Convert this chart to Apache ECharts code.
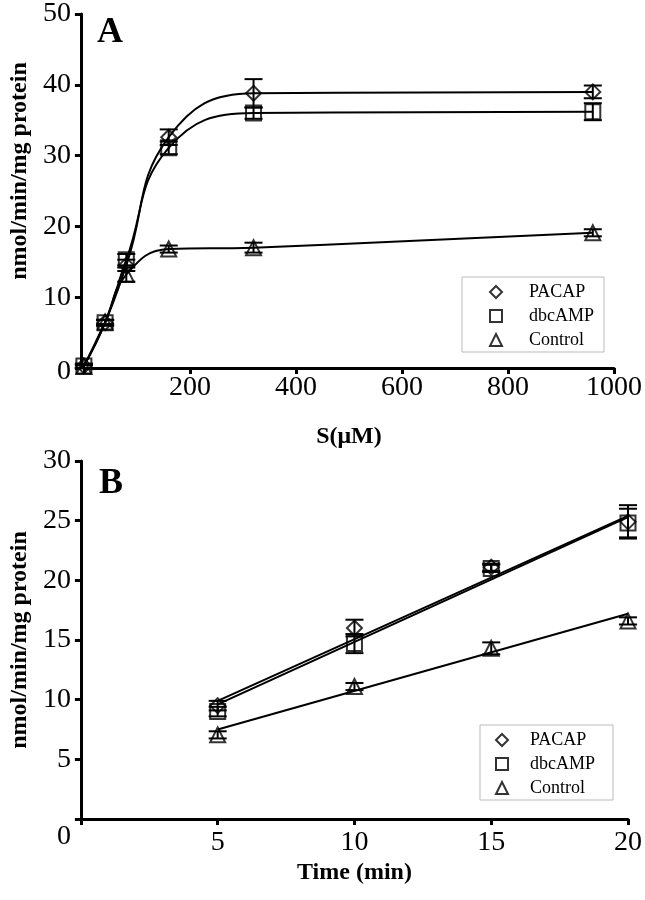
<!DOCTYPE html>
<html>
<head>
<meta charset="utf-8">
<script src="https://cdn.jsdelivr.net/npm/echarts@6/dist/echarts.min.js"></script>
<style>
html,body{margin:0;padding:0;background:#fff;}
#c{width:645px;height:900px;}
</style>
</head>
<body>
<div id="c"></div>
<script>
// ---- Panel A data (substrate concentration, µM) ----
const concA = [0, 40, 80, 160, 320, 960];
const pacapA = [0.3, 6.4, 14.5, 32.6, 38.8, 39.0];
const pacapAErr = [0.3, 0.4, 0.8, 1.1, 2.0, 0.9];
const dbcampA = [0.3, 6.4, 15.3, 31.1, 36.0, 36.2];
const dbcampAErr = [0.3, 0.4, 0.8, 0.9, 0.8, 1.2];
const controlA = [0.2, 6.5, 13.2, 16.8, 17.0, 19.1];
const controlAErr = [0.2, 0.3, 1.0, 0.5, 0.7, 0.5];
const xTicksA = [0, 200, 400, 600, 800, 1000];
const yTicksA = [0, 10, 20, 30, 40, 50];

// ---- Panel B data (time, min) ----
const timeB = [5, 10, 15, 20];
const pacapB = [9.5, 16.0, 21.1, 24.9];
const pacapBErr = [0.4, 0.7, 0.3, 1.4];
const dbcampB = [9.0, 14.7, 21.0, 24.8];
const dbcampBErr = [0.4, 0.8, 0.3, 1.2];
const controlB = [7.05, 11.1, 14.3, 16.6];
const controlBErr = [0.3, 0.3, 0.5, 0.3];
// fitted lines read at the ends of each line
const fitTimeB = [5, 20];
const pacapFitB = [9.9, 25.4];
const dbcampFitB = [9.6, 25.3];
const controlFitB = [7.5, 17.2];
const xTicksB = [0, 5, 10, 15, 20];
const yTicksB = [0, 5, 10, 15, 20, 25, 30];

const names = ['PACAP', 'dbcAMP', 'Control'];
const symbols = ['diamond', 'rect', 'triangle'];
const sizes = [15, 15, 15];

const FONT = "'Liberation Serif','Times New Roman',serif";
const BLACK = '#000';

function pairs(xs, ys) { return xs.map((x, i) => [x, ys[i]]); }
function errData(xs, ys, es) { return xs.map((x, i) => [x, ys[i] - es[i], ys[i] + es[i]]); }

function errRender(params, api) {
  const x = api.value(0), lo = api.value(1), hi = api.value(2);
  const p1 = api.coord([x, lo]);
  const p2 = api.coord([x, hi]);
  const w = 9;
  const st = { stroke: BLACK, lineWidth: 2 };
  return {
    type: 'group',
    children: [
      { type: 'line', shape: { x1: p1[0], y1: p1[1], x2: p2[0], y2: p2[1] }, style: st },
      { type: 'line', shape: { x1: p1[0] - w, y1: p1[1], x2: p1[0] + w, y2: p1[1] }, style: st },
      { type: 'line', shape: { x1: p2[0] - w, y1: p2[1], x2: p2[0] + w, y2: p2[1] }, style: st }
    ]
  };
}

const seriesA = [];
const seriesB = [];
const valsA = [pacapA, dbcampA, controlA];
const errsA = [pacapAErr, dbcampAErr, controlAErr];
const valsB = [pacapB, dbcampB, controlB];
const errsB = [pacapBErr, dbcampBErr, controlBErr];
const fitsB = [pacapFitB, dbcampFitB, controlFitB];

for (let k = 0; k < 3; k++) {
  // Panel A: smooth curve through points
  seriesA.push({
    name: names[k] + ' curve', type: 'line', xAxisIndex: 0, yAxisIndex: 0,
    data: pairs(concA, valsA[k]), smooth: 0.45,
    showSymbol: false, lineStyle: { color: BLACK, width: 2 }, z: 2, silent: true
  });
  seriesA.push({
    name: names[k] + ' errA', type: 'custom', xAxisIndex: 0, yAxisIndex: 0,
    renderItem: errRender, data: errData(concA, valsA[k], errsA[k]),
    encode: { x: 0, y: [1, 2] }, z: 3, silent: true
  });
  seriesA.push({
    name: names[k], type: 'scatter', xAxisIndex: 0, yAxisIndex: 0,
    data: pairs(concA, valsA[k]), symbol: symbols[k], symbolSize: sizes[k],
    itemStyle: { color: 'rgba(255,255,255,0)', borderColor: BLACK, borderWidth: 2 }, z: 4
  });
  // Panel B: straight fitted line + points
  seriesB.push({
    name: names[k] + ' fit', type: 'line', xAxisIndex: 1, yAxisIndex: 1,
    data: pairs(fitTimeB, fitsB[k]), showSymbol: false,
    lineStyle: { color: BLACK, width: 2 }, z: 2, silent: true
  });
  seriesB.push({
    name: names[k] + ' errB', type: 'custom', xAxisIndex: 1, yAxisIndex: 1,
    renderItem: errRender, data: errData(timeB, valsB[k], errsB[k]),
    encode: { x: 0, y: [1, 2] }, z: 3, silent: true
  });
  seriesB.push({
    name: names[k], type: 'scatter', xAxisIndex: 1, yAxisIndex: 1,
    data: pairs(timeB, valsB[k]), symbol: symbols[k], symbolSize: sizes[k],
    itemStyle: { color: 'rgba(255,255,255,0)', borderColor: BLACK, borderWidth: 2 }, z: 4
  });
}

const axisLine = { show: true, onZero: false, lineStyle: { color: BLACK, width: 3 } };
const axisTick = { show: true, inside: false, length: 6, lineStyle: { color: BLACK, width: 3 } };
const tickFont = { color: BLACK, fontFamily: FONT, fontSize: 28 };
const nameFont = { color: BLACK, fontFamily: FONT, fontSize: 24, fontWeight: 'bold' };

function legendCfg(left, top, padL, textPadL, padR) {
  return {
    show: true, orient: 'vertical', left: left, top: top,
    data: names, itemWidth: 12, itemHeight: 12, itemGap: 6,
    padding: [6, padR, 3, padL], borderColor: '#bbb', borderWidth: 1,
    selectedMode: false,
    textStyle: { color: BLACK, fontFamily: FONT, fontSize: 18, lineHeight: 18, padding: [0, 0, 0, textPadL] }
  };
}

const option = {
  animation: false,
  backgroundColor: '#fff',
  title: [
    { text: 'A', left: 97, top: 15, padding: 0, textStyle: { color: BLACK, fontFamily: FONT, fontSize: 36, fontWeight: 'bold' } },
    { text: 'B', left: 99, top: 466, padding: 0, textStyle: { color: BLACK, fontFamily: FONT, fontSize: 36, fontWeight: 'bold' } }
  ],
  legend: [legendCfg(462, 277, 27, 22, 10), legendCfg(480, 725, 15, 17, 18)],
  grid: [
    { left: 76, top: 12, width: 561, height: 356 },
    { left: 78, top: 461, width: 556, height: 358 }
  ],
  xAxis: [
    {
      gridIndex: 0, type: 'value', min: xTicksA[0], max: xTicksA[xTicksA.length - 1], interval: 200,
      axisLine: axisLine, axisTick: axisTick, splitLine: { show: false },
      axisLabel: Object.assign({ margin: 6, formatter: v => (v === 0 ? '' : String(v)) }, tickFont),
      name: 'S(\u03bcM)', nameLocation: 'middle', nameGap: 57, nameTextStyle: nameFont
    },
    {
      gridIndex: 1, type: 'value', min: xTicksB[0], max: xTicksB[xTicksB.length - 1], interval: 5,
      axisLine: axisLine, axisTick: axisTick, splitLine: { show: false },
      axisLabel: Object.assign({ margin: 10, formatter: v => (v === 0 ? '' : String(v)) }, tickFont),
      name: 'Time (min)', nameLocation: 'middle', nameGap: 42, nameTextStyle: nameFont
    }
  ],
  yAxis: [
    {
      gridIndex: 0, type: 'value', min: yTicksA[0], max: yTicksA[yTicksA.length - 1], interval: 10, offset: 3,
      axisLine: axisLine, axisTick: axisTick, splitLine: { show: false },
      axisLabel: Object.assign({ margin: 10,
        formatter: v => (v === 0 ? '{z|0}' : String(v)),
        rich: { z: { color: BLACK, fontFamily: FONT, fontSize: 28, padding: [8, 0, 0, 0] } } }, tickFont),
      name: 'nmol/min/mg protein', nameLocation: 'middle', nameGap: 40,
      nameTextStyle: Object.assign({ padding: [0, 0, 0, 40] }, nameFont)
    },
    {
      gridIndex: 1, type: 'value', min: yTicksB[0], max: yTicksB[yTicksB.length - 1], interval: 5,
      axisLine: axisLine, axisTick: axisTick, splitLine: { show: false },
      axisLabel: Object.assign({ margin: 10,
        formatter: v => (v === 0 ? '{z|0}' : String(v)),
        rich: { z: { color: BLACK, fontFamily: FONT, fontSize: 28, padding: [36, 0, 0, 0] } } }, tickFont),
      name: 'nmol/min/mg protein', nameLocation: 'middle', nameGap: 42, nameTextStyle: nameFont
    }
  ],
  series: seriesA.concat(seriesB)
};

const chart = echarts.init(document.getElementById('c'), null, { renderer: 'canvas' });
chart.setOption(option);
</script>
</body>
</html>
